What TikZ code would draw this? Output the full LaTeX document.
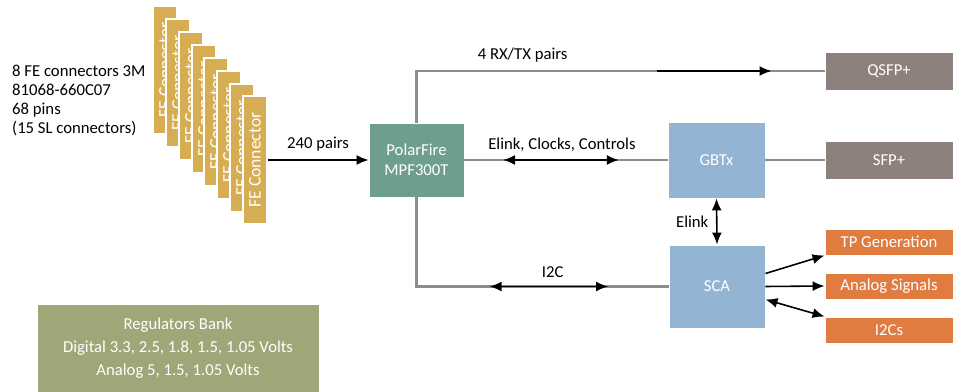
\documentclass[tikz,border=0pt]{standalone}
\usepackage{fontspec}
\setmainfont{Carlito}
\usetikzlibrary{calc,arrows.meta}

\definecolor{fegold}{HTML}{D6AD52}
\definecolor{fpgagreen}{HTML}{6E9E8E}
\definecolor{asicblue}{HTML}{93B5D3}
\definecolor{optgray}{HTML}{8E817D}
\definecolor{ioorange}{HTML}{E07C40}
\definecolor{powerolive}{HTML}{A0A678}
\definecolor{linkgray}{HTML}{8C8C8C}

\begin{document}
\begin{tikzpicture}[
 x=0.2mm, y=-0.2mm,
 >={Latex[length=2.4mm,width=2mm]},
 font=\fontsize{9.5}{11.5}\selectfont,
 align=center,
 conn/.style={draw=white,line width=0.6pt,fill=fegold,text=white,rotate=90,
   minimum width=25.6mm,minimum height=4.8mm,inner sep=0pt,font=\fontsize{10}{12}\selectfont},
 chip/.style={rectangle,draw=white,line width=0.5pt,text=white,inner sep=0pt},
 optic/.style={chip,fill=optgray,minimum width=25.6mm,minimum height=7.6mm},
 port/.style={chip,fill=ioorange,minimum width=25.6mm,minimum height=5.2mm},
 link/.style={draw=linkgray,line width=1.4pt},
 sig/.style={draw=black,line width=0.9pt}
]
\useasboundingbox (0,0) rectangle (953,392);

% front-end connector stack, back to front
\node (conn1) [conn] at (165,70) {FE Connector};
\node (conn2) [conn] at (178,83) {FE Connector};
\node (conn3) [conn] at (191,96) {FE Connector};
\node (conn4) [conn] at (204,109) {FE Connector};
\node (conn5) [conn] at (216,122) {FE Connector};
\node (conn6) [conn] at (229,135) {FE Connector};
\node (conn7) [conn] at (242,148) {FE Connector};
\node (conn8) [conn] at (255,160) {FE Connector};
\node (conn-info) [anchor=west,align=left,font=\fontsize{9.5}{10.8}\selectfont] at (6,100)
 {8 FE connectors 3M\\81068-660C07\\68 pins\\(15 SL connectors)};

% main blocks
\node (fpga) [chip,fill=fpgagreen,minimum width=19mm,minimum height=14.8mm] at (416.5,160) {PolarFire\\MPF300T};
\node (gbtx) [chip,fill=asicblue,minimum width=19.4mm,minimum height=15.2mm] at (716.5,160) {GBTx};
\node (sca) [chip,fill=asicblue,minimum width=19.2mm,minimum height=16.6mm] at (717,286.5) {SCA};
\node (qsfp) [optic] at (889,71) {QSFP+};
\node (sfp) [optic] at (889,160) {SFP+};
\node (tp-gen) [port] at (889,242) {TP Generation};
\node (analog) [port] at (889,286) {Analog Signals};
\node (i2cs) [port] at (889,330) {I2Cs};
\node (regbank) [chip,fill=powerolive,minimum width=56.4mm,minimum height=17.6mm,
 font=\fontsize{9.5}{13}\selectfont] at (178,348)
 {Regulators Bank\\Digital 3.3, 2.5, 1.8, 1.5, 1.05 Volts\\Analog 5, 1.5, 1.05 Volts};

% links
\draw[sig,->] (conn8.south) -- node [above=1pt] {240 pairs} (fpga.west);
\coordinate (tx-corner) at (fpga.north |- qsfp.west);
\draw[link] (fpga.north) -- (tx-corner) -- node [above=1pt,pos=0.26,text=black] {4 RX/TX pairs} (qsfp.west);
\draw[sig,->] ($(tx-corner)!0.59!(qsfp.west)$) -- ($(tx-corner)!0.87!(qsfp.west)$);
\draw[link] (fpga.east) -- node [above=1pt,pos=0.48,text=black] {Elink, Clocks, Controls} (gbtx.west);
\draw[sig,<->] ($(fpga.east)!0.19!(gbtx.west)$) -- ($(fpga.east)!0.76!(gbtx.west)$);
\draw[link] (gbtx.east) -- (sfp.west);
\draw[sig,<->] (gbtx.south) -- node [left=1pt] {Elink} (sca.north);
\coordinate (i2c-corner) at (fpga.south |- sca.west);
\draw[link] (fpga.south) -- (i2c-corner) -- node [above=1pt,pos=0.54,text=black] {I2C} (sca.west);
\draw[sig,<->] ($(i2c-corner)!0.29!(sca.west)$) -- ($(i2c-corner)!0.76!(sca.west)$);
\draw[sig,->] (sca.15) -- (tp-gen.south west);
\draw[sig,->] (sca.east) -- (analog.west);
\draw[sig,<->] (sca.-15) -- (i2cs.north west);
\end{tikzpicture}
\end{document}
